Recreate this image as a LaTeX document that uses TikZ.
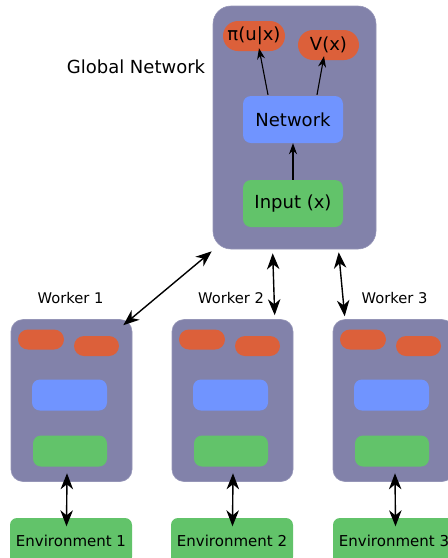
\documentclass[tikz,border=0pt]{standalone}
\usepackage{fontspec}
\setmainfont{DejaVu Sans}
\usetikzlibrary{arrows.meta,calc}

\definecolor{panelc}{RGB}{130,130,170}
\definecolor{outc}{RGB}{220,96,58}
\definecolor{netc}{RGB}{112,148,255}
\definecolor{inc}{RGB}{98,195,106}

\tikzset{
  panel/.style={fill=panelc, draw=panelc!85!white, line width=0.6pt, inner sep=0pt},
  outbox/.style={fill=outc, inner sep=0pt},
  netbox/.style={fill=netc, inner sep=0pt, rounded corners=8pt},
  inbox/.style={fill=inc, inner sep=0pt, rounded corners=8pt},
  envbox/.style={fill=inc, inner sep=0pt, rounded corners=7pt,
    minimum width=122pt, minimum height=46pt, font=\fontsize{15}{17}\selectfont},
  biglabel/.style={font=\fontsize{18}{20}\selectfont},
  wlabel/.style={font=\fontsize{14.7}{17}\selectfont},
  flow/.style={line width=1.1pt, -{Stealth[length=11pt,width=8pt,inset=3.5pt]}},
  link/.style={line width=1.4pt,
    {Stealth[length=16pt,width=12.5pt,inset=5pt]}-{Stealth[length=16pt,width=12.5pt,inset=5pt]}},
}

\begin{document}
\begin{tikzpicture}[x=1pt,y=-1pt]
\useasboundingbox (0,0) rectangle (448,558);

% global network
\node[panel, rounded corners=18pt, minimum width=163pt, minimum height=243pt] (G) at (294.5,127.5) {};
\node[outbox, rounded corners=15pt, minimum width=62pt, minimum height=30pt, biglabel] (pi) at (254,36) {π(u|x)};
\node[outbox, rounded corners=15pt, minimum width=61pt, minimum height=30pt, biglabel] (v) at (328.5,45) {V(x)};
\node[netbox, minimum width=100pt, minimum height=47pt, biglabel] (net) at (293,119.5) {Network};
\node[inbox, minimum width=100pt, minimum height=47pt, biglabel] (inp) at (293,203.5) {Input (x)};
\node[biglabel] (gl) at (136,67) {Global Network};

\draw[flow] (inp.north) -- (net.south);
\draw[flow] ($(net.north)+(-25,-1)$) -- ($(pi.south)+(5,-3)$);
\draw[flow] ($(net.north)+(24,-1)$) -- ($(v.south)+(-4.5,-4)$);

% workers and their environments
\foreach \i/\cx/\ex/\ax in {1/71.5/71/-4.5, 2/232.5/232/0.5, 3/393.5/394/1.5}{
  \node[panel, rounded corners=12pt, minimum width=121pt, minimum height=162pt] (w\i) at (\cx,400.5) {};
  \node[outbox, rounded corners=10pt, minimum width=46pt, minimum height=20pt] (wo\i) at ($(w\i)+(-30.5,-61)$) {};
  \node[outbox, rounded corners=10pt, minimum width=45pt, minimum height=20pt] (wv\i) at ($(w\i)+(25,-54.5)$) {};
  \node[netbox, minimum width=75pt, minimum height=31pt] (wn\i) at ($(w\i)+(-2,-5.5)$) {};
  \node[inbox, minimum width=74pt, minimum height=31pt] (wi\i) at ($(w\i)+(-1.5,50.5)$) {};
  \node[envbox] (e\i) at (\ex,541) {Environment \i};
  \draw[link] ($(w\i.south)+(\ax,-8.5)$) -- ($(e\i.north)+(\ax,8.5)$);
}

\node[wlabel] (l1) at (70.5,298) {Worker 1};
\node[wlabel] (l2) at (231,298) {Worker 2};
\node[wlabel] (l3) at (394.5,298) {Worker 3};

% links between the global network and the workers
\draw[link] ($(w1.north east)+(-9,6)$) -- ($(G.south west)+(-1,2)$);
\draw[link] ($(G.south west)+(60,4)$) -- ($(w2.north west)+(103,-4)$);
\draw[link] ($(G.south west)+(126,3)$) -- ($(w3.north west)+(12,-3)$);
\end{tikzpicture}
\end{document}
